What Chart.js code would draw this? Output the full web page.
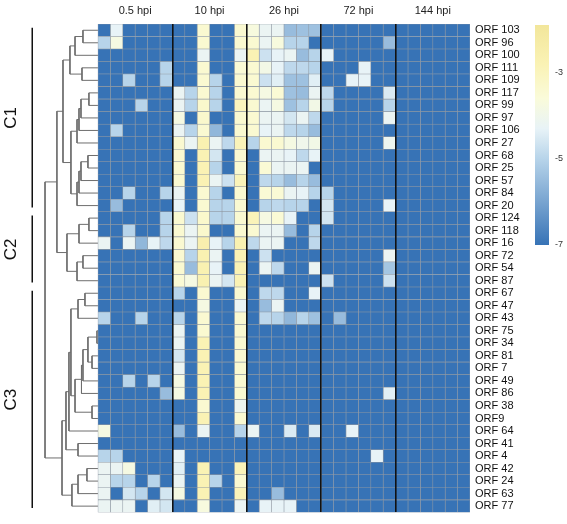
<!DOCTYPE html>
<html>
<head>
<meta charset="utf-8">
<script src="https://cdn.jsdelivr.net/npm/chart.js@4.4.1/dist/chart.umd.min.js"></script>
<style>
    body { margin: 0; background: #fff; }
    #wrap { position: relative; width: 567px; height: 524px; }
    #heat { position: absolute; left: 0; top: 0; }
    #bar { position: absolute; left: 530px; top: 20px; }
</style>
</head>
<body>
<div id="wrap">
    <canvas id="heat" width="567" height="524"></canvas>
    <canvas id="bar" width="37" height="235"></canvas>
</div>
<script>
/* DATA */

const orfs = ["ORF 103", "ORF 96", "ORF 100", "ORF 111", "ORF 109", "ORF 117", "ORF 99", "ORF 97", "ORF 106",
    "ORF 27", "ORF 68", "ORF 25", "ORF 57", "ORF 84", "ORF 20", "ORF 124", "ORF 118", "ORF 16", "ORF 72",
    "ORF 54", "ORF 87", "ORF 67", "ORF 47", "ORF 43", "ORF 75", "ORF 34", "ORF 81", "ORF 7", "ORF 49",
    "ORF 86", "ORF 38", "ORF9", "ORF 64", "ORF 41", "ORF 4", "ORF 42", "ORF 24", "ORF 63", "ORF 77"];

const groups = ["0.5 hpi", "10 hpi", "26 hpi", "72 hpi", "144 hpi"];

// log values, one row per ORF, 6 replicates per time point
const hpi05 = [
    [-7, -4.3, -7, -7, -7, -7], [-5.0, -3.8, -7, -7, -7, -7], [-7, -7, -7, -7, -7, -7], [-7, -7, -7, -7, -7, -5.0],
    [-7, -7, -5.0, -7, -7, -5.0], [-7, -7, -7, -7, -7, -7], [-7, -7, -7, -5.0, -7, -7], [-7, -7, -7, -7, -7, -7],
    [-7, -5.0, -7, -7, -7, -7], [-7, -7, -7, -7, -7, -7], [-7, -7, -7, -7, -7, -7], [-7, -7, -7, -7, -7, -7],
    [-7, -7, -7, -7, -7, -7], [-7, -7, -5.0, -7, -7, -5.0], [-7, -5.5, -7, -7, -7, -7], [-7, -7, -7, -7, -7, -5.0],
    [-7, -7, -5.0, -7, -7, -5.0], [-4.2, -7, -4.2, -5.6, -4.3, -4.9], [-7, -7, -7, -7, -7, -7], [-7, -7, -7, -7, -7, -7],
    [-7, -7, -7, -7, -7, -7], [-7, -7, -7, -7, -7, -7], [-7, -7, -7, -7, -7, -7], [-5.0, -7, -7, -5.0, -7, -7],
    [-7, -7, -7, -7, -7, -7], [-7, -7, -7, -7, -7, -7], [-7, -7, -7, -7, -7, -7], [-7, -7, -7, -7, -7, -7],
    [-7, -7, -5.0, -7, -5.0, -7], [-7, -7, -7, -7, -7, -5.5], [-7, -7, -7, -7, -7, -7], [-7, -7, -7, -7, -7, -7],
    [-3.8, -7, -7, -7, -7, -7], [-7, -7, -7, -7, -7, -7], [-5.0, -5.0, -7, -7, -7, -7], [-4.2, -4.2, -3.8, -7, -7, -7],
    [-4.2, -5.0, -5.0, -7, -5.0, -7], [-4.2, -7, -4.6, -5.0, -7, -4.6], [-4.2, -4.2, -4.2, -7, -4.4, -4.6]
];

const hpi10 = [
    [-7, -7, -3.4, -7, -7, -3.4], [-7, -7, -3.4, -7, -7, -3.4], [-7, -7, -4.2, -7, -7, -4.2], [-7, -7, -3.4, -7, -7, -3.5],
    [-7, -7, -3.4, -5.0, -7, -3.4], [-4.2, -5.0, -3.4, -5.0, -7, -3.4], [-4.2, -5.0, -3.3, -5.0, -7, -3.0], [-3.8, -7, -3.3, -7, -7, -3.4],
    [-4.2, -5.0, -3.4, -5.6, -7, -3.4], [-3.4, -4.2, -2.7, -4.2, -4.9, -2.9], [-3.4, -7, -2.8, -4.6, -7, -3.4], [-3.4, -7, -2.8, -5.0, -7, -3.4],
    [-3.4, -7, -2.8, -4.2, -4.7, -2.9], [-4.2, -7, -3.4, -5.0, -7, -3.4], [-4.3, -7, -3.4, -5.0, -5.0, -3.4], [-3.4, -4.7, -3.3, -5.0, -5.0, -3.4],
    [-3.4, -4.2, -3.3, -7, -7, -3.4], [-3.4, -4.2, -2.6, -4.3, -5.0, -2.7], [-3.4, -5.0, -2.7, -4.2, -7, -2.8], [-3.4, -5.5, -2.7, -4.3, -7, -2.8],
    [-3.5, -3.8, -2.7, -4.2, -4.6, -2.8], [-5.0, -7, -3.4, -7, -7, -3.4], [-7, -7, -3.8, -7, -7, -4.2], [-5.0, -7, -3.4, -7, -7, -3.4],
    [-4.2, -7, -3.4, -7, -7, -3.4], [-4.2, -7, -2.8, -7, -7, -3.4], [-4.6, -7, -2.8, -7, -7, -3.4], [-4.2, -7, -2.8, -7, -7, -3.4],
    [-3.8, -7, -2.8, -7, -7, -3.4], [-3.8, -7, -2.8, -7, -7, -3.4], [-7, -7, -3.4, -7, -7, -4.1], [-7, -7, -2.8, -7, -7, -3.4],
    [-5.5, -7, -4.2, -7, -7, -5.0], [-7, -7, -7, -7, -7, -7], [-4.3, -7, -7, -7, -7, -7], [-4.4, -7, -2.8, -7, -7, -2.9],
    [-4.2, -7, -2.8, -5.0, -7, -3.4], [-3.8, -7, -2.8, -7, -7, -2.9], [-7, -7, -3.7, -7, -7, -4.2]
];

const hpi26 = [
    [-3.7, -4.2, -4.2, -5.5, -5.4, -5.4], [-3.4, -4.2, -3.7, -5.0, -5.0, -7], [-2.8, -4.7, -4.3, -4.2, -5.5, -5.0], [-3.4, -3.9, -4.3, -4.9, -4.9, -5.0],
    [-3.4, -4.7, -4.4, -5.4, -5.4, -4.4], [-3.4, -3.8, -3.5, -5.4, -5.5, -4.2], [-3.4, -4.2, -3.8, -5.4, -5.0, -3.9], [-3.4, -4.2, -4.2, -4.6, -4.2, -4.9],
    [-3.4, -4.3, -4.2, -4.9, -5.0, -5.5], [-5.0, -3.4, -3.4, -3.8, -4.0, -3.9], [-7, -4.2, -4.2, -4.3, -4.9, -4.3], [-7, -3.5, -4.2, -4.2, -4.2, -7],
    [-7, -4.9, -5.0, -5.5, -5.0, -5.5], [-7, -3.5, -3.5, -4.2, -4.3, -5.0], [-7, -5.0, -4.9, -5.0, -5.0, -7], [-2.9, -3.8, -3.5, -4.3, -7, -7],
    [-3.4, -4.2, -4.2, -5.5, -7, -5.0], [-4.9, -4.2, -4.2, -7, -7, -4.9], [-7, -4.7, -7, -7, -7, -7], [-7, -4.2, -4.9, -7, -7, -4.2],
    [-7, -7, -7, -7, -7, -7], [-7, -4.9, -4.9, -7, -7, -4.3], [-7, -5.5, -4.2, -7, -7, -7], [-7, -4.9, -5.0, -5.6, -5.0, -5.4],
    [-7, -7, -7, -7, -7, -7], [-7, -7, -7, -7, -7, -7], [-7, -7, -7, -7, -7, -7], [-7, -7, -7, -7, -7, -7],
    [-7, -7, -7, -7, -7, -7], [-7, -7, -7, -7, -7, -7], [-7, -7, -7, -7, -7, -7], [-7, -7, -7, -7, -7, -7],
    [-4.2, -7, -7, -4.5, -7, -4.5], [-7, -7, -7, -7, -7, -7], [-7, -7, -7, -7, -7, -7], [-7, -7, -7, -7, -7, -7],
    [-7, -7, -7, -7, -7, -7], [-7, -7, -5.5, -7, -7, -7], [-7, -4.3, -4.3, -4.3, -7, -7]
];

const hpi72 = [
    [-7, -7, -7, -7, -7, -7], [-7, -7, -7, -7, -7, -5.5], [-4.3, -7, -7, -7, -7, -7], [-7, -7, -7, -4.3, -7, -7],
    [-7, -7, -4.3, -4.3, -7, -7], [-4.9, -7, -7, -7, -7, -4.5], [-5.0, -7, -7, -7, -7, -5.0], [-7, -7, -7, -7, -7, -4.2],
    [-7, -7, -7, -7, -7, -7], [-7, -7, -7, -7, -7, -4.1], [-7, -7, -7, -7, -7, -7], [-7, -7, -7, -7, -7, -7],
    [-7, -7, -7, -7, -7, -7], [-5.0, -7, -7, -7, -7, -7], [-4.6, -7, -7, -7, -7, -4.3], [-4.6, -7, -7, -7, -7, -7],
    [-7, -7, -7, -7, -7, -7], [-7, -7, -7, -7, -7, -7], [-7, -7, -7, -7, -7, -4.2], [-7, -7, -7, -7, -7, -5.3],
    [-4.7, -7, -7, -7, -7, -4.7], [-7, -7, -7, -7, -7, -7], [-7, -7, -7, -7, -7, -7], [-7, -5.5, -7, -7, -7, -7],
    [-7, -7, -7, -7, -7, -7], [-7, -7, -7, -7, -7, -7], [-7, -7, -7, -7, -7, -7], [-7, -7, -7, -7, -7, -7],
    [-7, -7, -7, -7, -7, -7], [-7, -7, -7, -7, -7, -4.4], [-7, -7, -7, -7, -7, -7], [-7, -7, -7, -7, -7, -7],
    [-7, -7, -4.3, -7, -7, -7], [-7, -7, -7, -7, -7, -7], [-7, -7, -7, -7, -4.3, -7], [-7, -7, -7, -7, -7, -7],
    [-7, -7, -7, -7, -7, -7], [-7, -7, -7, -7, -7, -7], [-7, -7, -7, -7, -7, -7]
];

const hpi144 = [
    [-7, -7, -7, -7, -7, -7], [-7, -7, -7, -7, -7, -7], [-7, -7, -7, -7, -7, -7], [-7, -7, -7, -7, -7, -7],
    [-7, -7, -7, -7, -7, -7], [-7, -7, -7, -7, -7, -7], [-7, -7, -7, -7, -7, -7], [-7, -7, -7, -7, -7, -7],
    [-7, -7, -7, -7, -7, -7], [-7, -7, -7, -7, -7, -7], [-7, -7, -7, -7, -7, -7], [-7, -7, -7, -7, -7, -7],
    [-7, -7, -7, -7, -7, -7], [-7, -7, -7, -7, -7, -7], [-7, -7, -7, -7, -7, -7], [-7, -7, -7, -7, -7, -7],
    [-7, -7, -7, -7, -7, -7], [-7, -7, -7, -7, -7, -7], [-7, -7, -7, -7, -7, -7], [-7, -7, -7, -7, -7, -7],
    [-7, -7, -7, -7, -7, -7], [-7, -7, -7, -7, -7, -7], [-7, -7, -7, -7, -7, -7], [-7, -7, -7, -7, -7, -7],
    [-7, -7, -7, -7, -7, -7], [-7, -7, -7, -7, -7, -7], [-7, -7, -7, -7, -7, -7], [-7, -7, -7, -7, -7, -7],
    [-7, -7, -7, -7, -7, -7], [-7, -7, -7, -7, -7, -7], [-7, -7, -7, -7, -7, -7], [-7, -7, -7, -7, -7, -7],
    [-7, -7, -7, -7, -7, -7], [-7, -7, -7, -7, -7, -7], [-7, -7, -7, -7, -7, -7], [-7, -7, -7, -7, -7, -7],
    [-7, -7, -7, -7, -7, -7], [-7, -7, -7, -7, -7, -7], [-7, -7, -7, -7, -7, -7]
];

// colour key
const keyTicks = [-7, -5, -3];
const keyMin = -7;
const keyMax = -1.9;

// dendrogram merges: [left, right, height]; ids >= 39 point at earlier merges
const linkage = [
    [0, 1, 1.21], [39, 2, 1.85], [3, 4, 1.29], [40, 41, 2.26],
    [5, 6, 0.73], [43, 7, 1.37], [44, 8, 1.53], [45, 9, 1.69],
    [10, 11, 0.81], [47, 12, 1.37], [48, 13, 1.53], [49, 14, 1.69],
    [46, 50, 2.18], [42, 51, 2.82],
    [15, 16, 0.73], [53, 17, 1.53], [18, 19, 1.21], [55, 20, 1.69], [54, 56, 2.5],
    [52, 57, 3.31],
    [21, 22, 1.05], [59, 23, 1.61], [24, 25, 0.08], [26, 27, 0.48], [61, 62, 0.81],
    [63, 28, 1.21], [64, 29, 1.33], [30, 31, 0.48], [65, 66, 1.85], [60, 67, 2.18],
    [68, 32, 2.34], [33, 34, 1.61], [69, 70, 2.58], [35, 36, 0.89], [72, 37, 1.61],
    [73, 38, 2.1], [71, 74, 2.9],
    [58, 75, 4.27]
];

const clusterNames = ["C1", "C2", "C3"];
const clusterFirst = [0, 15, 21];
const clusterLast = [14, 20, 38];

/* COLOURS */

const FONT = '"Liberation Sans", Arial, sans-serif';

const colorStops = [
    [-7.0, [55, 115, 182]],
    [-6.0, [120, 164, 208]],
    [-5.0, [183, 212, 234]],
    [-4.3, [232, 243, 247]],
    [-3.6, [250, 251, 218]],
    [-2.8, [250, 242, 180]],
    [-1.9, [242, 230, 155]]
];

function rgb(c) {
    return 'rgb(' + c.map(Math.round).join(',') + ')';
}

function colorFor(v) {
    if (v <= colorStops[0][0]) return rgb(colorStops[0][1]);
    for (let i = 1; i < colorStops.length; i++) {
        const [v1, c1] = colorStops[i];
        const [v0, c0] = colorStops[i - 1];
        if (v <= v1) {
            const t = (v - v0) / (v1 - v0);
            return rgb(c0.map((a, k) => a + (c1[k] - a) * t));
        }
    }
    return rgb(colorStops[colorStops.length - 1][1]);
}

/* HEATMAP */

const xMin = -7.9;       // room for the dendrogram left of the cells
const nCols = groups.length * 6;
const matrix = orfs.map((n, r) => [].concat(hpi05[r], hpi10[r], hpi26[r], hpi72[r], hpi144[r]));

const cellSets = [];
for (let c = 0; c < nCols; c++) {
    cellSets.push({
        type: 'bar',
        indexAxis: 'y',
        xAxisID: 'x',
        yAxisID: 'y',
        data: orfs.map(() => [c, c + 1]),
        backgroundColor: matrix.map(row => colorFor(row[c])),
        borderColor: '#8f98a3',
        borderWidth: 0.6,
        borderSkipped: false,
        barPercentage: 1,
        categoryPercentage: 1,
        grouped: false
    });
}

// дендрограмма
const nodeY = orfs.map((n, i) => i);
const nodeH = orfs.map(() => 0);
const dendroSets = [];
linkage.forEach(([a, b, h]) => {
    const ya = nodeY[a], yb = nodeY[b];
    dendroSets.push({
        type: 'scatter',
        indexAxis: 'x',
        xAxisID: 'x',
        yAxisID: 'yd',
        showLine: true,
        data: [{ x: -nodeH[a], y: ya }, { x: -h, y: ya }, { x: -h, y: yb }, { x: -nodeH[b], y: yb }],
        borderColor: '#6e6e6e',
        borderWidth: 1,
        pointRadius: 0
    });
    nodeY.push((ya + yb) / 2);
    nodeH.push(h);
});

// cluster brackets C1..C3
const bracketX = -5.3;
const labelX = -6.95;
const clusterSets = clusterNames.map((name, i) => ({
    type: 'scatter',
    indexAxis: 'x',
    xAxisID: 'x',
    yAxisID: 'yd',
    showLine: true,
    data: [{ x: bracketX, y: clusterFirst[i] - 0.2 }, { x: bracketX, y: clusterLast[i] + 0.15 }],
    borderColor: '#111',
    borderWidth: 1.5,
    pointRadius: 0
}));

const clusterLabels = {
    id: 'clusterLabels',
    afterDatasetsDraw(chart) {
        const { ctx } = chart;
        const xs = chart.scales.x, ys = chart.scales.yd;
        clusterNames.forEach((name, i) => {
            const px = xs.getPixelForValue(labelX);
            const py = ys.getPixelForValue((clusterFirst[i] + clusterLast[i]) / 2);
            ctx.save();
            ctx.translate(px, py);
            ctx.rotate(-Math.PI / 2);
            ctx.font = '17px ' + FONT;
            ctx.fillStyle = '#111';
            ctx.textAlign = 'center';
            ctx.textBaseline = 'middle';
            ctx.fillText(name, 0, 0);
            ctx.restore();
        });
    }
};

new Chart(document.getElementById('heat'), {
    type: 'bar',
    data: {
        labels: orfs,
        datasets: cellSets.concat(dendroSets, clusterSets)
    },
    options: {
        indexAxis: 'y',
        responsive: false,
        animation: false,
        events: [],
        layout: { padding: { left: 0, right: 0, top: 0, bottom: 2 } },
        plugins: {
            legend: { display: false },
            tooltip: { enabled: false }
        },
        scales: {
            x: {
                type: 'linear',
                position: 'bottom',
                min: xMin,
                max: nCols,
                bounds: 'data',
                offset: false,
                beginAtZero: false,
                // black separators between time points, drawn above the cells
                grid: { color: '#111', lineWidth: 1.6, drawTicks: false, offset: false, z: 1 },
                border: { display: false },
                ticks: { display: false },
                afterBuildTicks: s => { s.ticks = groups.slice(1).map((g, i) => ({ value: (i + 1) * 6 })); },
                afterFit: s => { s.height = 0; }
            },
            xt: {
                type: 'linear',
                position: 'top',
                min: xMin,
                max: nCols,
                bounds: 'data',
                offset: false,
                grid: { display: false, drawTicks: false, offset: false },
                border: { display: false },
                afterBuildTicks: s => { s.ticks = groups.map((g, i) => ({ value: i * 6 + 3 })); },
                ticks: {
                    callback: (v, i) => groups[i],
                    padding: 6,
                    autoSkip: false,
                    maxRotation: 0,
                    color: '#222',
                    font: { size: 11, family: FONT }
                },
                afterFit: s => { s.height = 24; }
            },
            y: {
                type: 'category',
                position: 'right',
                offset: true,
                grid: { display: false, drawTicks: false },
                border: { display: false },
                ticks: {
                    padding: 5,
                    autoSkip: false,
                    color: '#111',
                    font: { size: 11, family: FONT }
                },
                afterFit: s => { s.width = 97; }
            },
            yd: {
                type: 'linear',
                display: false,
                offset: false,
                min: -0.5,
                max: orfs.length - 0.5,
                reverse: true
            }
        }
    },
    plugins: [clusterLabels]
});

/* COLOUR KEY */

function keyGradient(context) {
    const chart = context.chart;
    const ys = chart.scales.y;
    if (!chart.chartArea || !ys) return colorFor(-5);
    const g = chart.ctx.createLinearGradient(0, ys.getPixelForValue(keyMin), 0, ys.getPixelForValue(keyMax));
    colorStops.forEach(([v, c]) => g.addColorStop((v - keyMin) / (keyMax - keyMin), rgb(c)));
    return g;
}

new Chart(document.getElementById('bar'), {
    type: 'bar',
    data: {
        labels: [''],
        datasets: [{
            data: [[keyMin, keyMax]],
            backgroundColor: keyGradient,
            borderWidth: 0,
            barPercentage: 1,
            categoryPercentage: 1
        }]
    },
    options: {
        responsive: false,
        animation: false,
        events: [],
        layout: { padding: { left: 5, top: 5, bottom: 10, right: 0 } },
        plugins: {
            legend: { display: false },
            tooltip: { enabled: false }
        },
        scales: {
            x: { display: false },
            y: {
                position: 'right',
                min: keyMin,
                max: keyMax,
                bounds: 'data',
                grid: { display: false, drawTicks: false },
                border: { display: false },
                afterBuildTicks: s => { s.ticks = keyTicks.map(v => ({ value: v })); },
                ticks: { padding: 6, color: '#333', font: { size: 9, family: FONT } },
                afterFit: s => {
                    s.width = 18;
                    s.paddingTop = 0;
                    s.paddingBottom = 0;
                }
            }
        }
    }
});
</script>
</body>
</html>
